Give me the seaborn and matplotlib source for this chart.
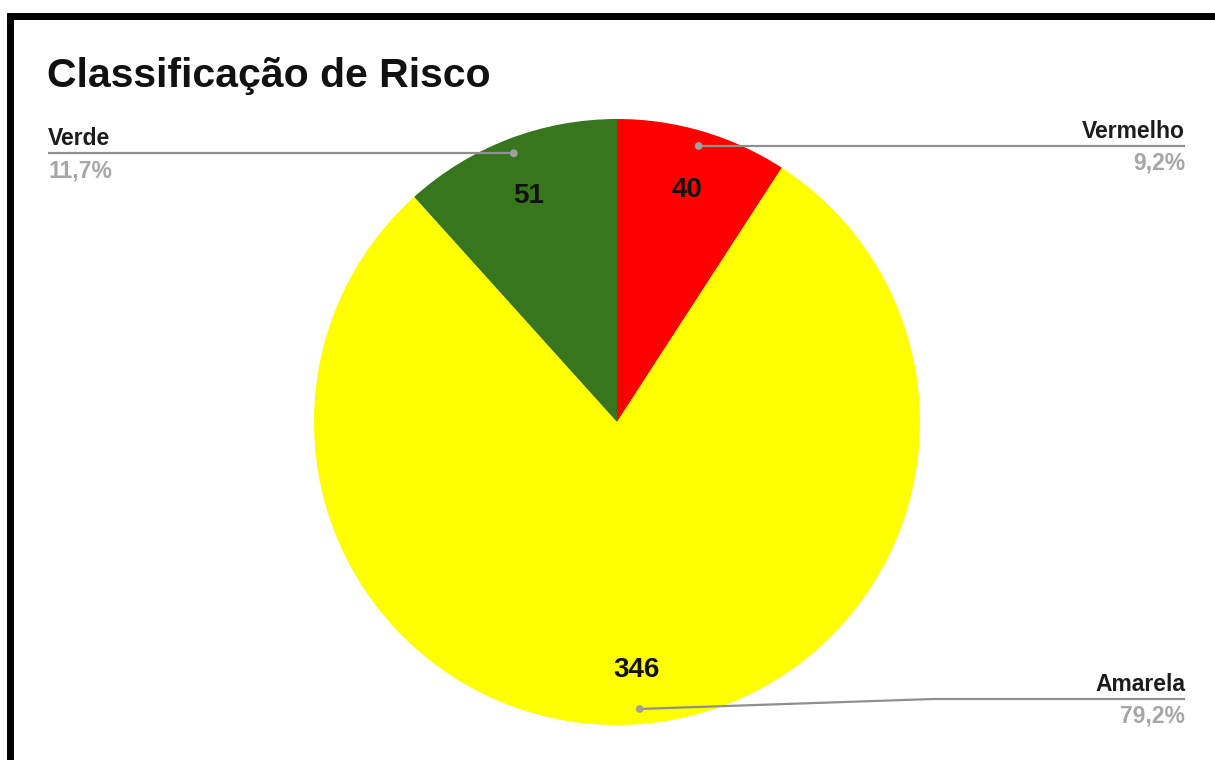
import numpy as np
import matplotlib
matplotlib.use("Agg")
import matplotlib.pyplot as plt
from matplotlib.patches import Rectangle, Circle
import seaborn as sns

# Dados
categorias = ["Vermelho", "Amarela", "Verde"]
valores = [40, 346, 51]
cores = ["#FF0000", "#FFFF00", "#38761D"]
titulo = "Classificação de Risco"

sns.set_theme(style="white")
plt.rcParams["font.family"] = ["Liberation Sans", "DejaVu Sans"]

W, H = 1215, 760
fig = plt.figure(figsize=(W / 100, H / 100), dpi=100)
ax = fig.add_axes([0, 0, 1, 1])
ax.set_xlim(0, W)
ax.set_ylim(0, H)
ax.set_aspect("equal")
ax.axis("off")


def py(y):
    """Converte y em pixels (de cima para baixo) para coordenadas do eixo."""
    return H - y


cx, cy, r = 617, py(422), 303
total = sum(valores)

wedges, _, autotexts = ax.pie(
    valores,
    colors=sns.color_palette(cores),
    startangle=90,
    counterclock=False,
    center=(cx, cy),
    radius=r,
    autopct=lambda p: f"{round(p * total / 100)}",
    pctdistance=0.81,
    wedgeprops=dict(linewidth=0),
    textprops=dict(fontsize=20, fontweight="bold", color="#111111"),
)
for t in autotexts:
    t.set_va("center_baseline")
ax.set_xlim(0, W)
ax.set_ylim(0, H)

# Moldura preta
fig.patches.append(Rectangle((9.5, -20), W + 40, H - 15.5 + 20, transform=None,
                             fill=False, edgecolor="black", linewidth=5.0,
                             figure=fig))

ax.text(47, py(76), titulo, fontsize=29.5, fontweight="bold", color="#111111",
        ha="left", va="center")

line_col = "#8f8f8f"
pct_col = "#a6a6a6"
lbl_col = "#1c1c1c"

# Rótulos com linhas de chamada: (lado, x final, y da linha, ponto de quebra)
layout = {
    "Vermelho": ("right", 1185, 146, None),
    "Verde": ("left", 48, 153, None),
    "Amarela": ("right", 1185, 699, 933),
}

for w, cat, val in zip(wedges, categorias, valores):
    ang = np.deg2rad((w.theta1 + w.theta2) / 2)
    dx, dy = cx + 0.95 * r * np.cos(ang), cy + 0.95 * r * np.sin(ang)
    side, xe, yl, xb = layout[cat]
    if xb is None:
        xs, ys = [dx, xe], [dy, dy]
        ylab = dy
    else:
        xs, ys = [dx, xb, xe], [dy, py(yl), py(yl)]
        ylab = py(yl)
    ax.plot(xs, ys, color=line_col, lw=1.6, solid_capstyle="butt", zorder=3)
    ax.add_patch(Circle((dx, dy), 3.2, color="#a0a0a0", zorder=4))
    ha = "right" if side == "right" else "left"
    ax.text(xe, ylab + 8, cat, fontsize=16.5, fontweight="bold", color=lbl_col,
            ha=ha, va="baseline")
    pct = f"{val / total * 100:.1f}".replace(".", ",") + "%"
    ax.text(xe, ylab - 24, pct, fontsize=16.5, fontweight="bold", color=pct_col,
            ha=ha, va="baseline")

fig.savefig("out.png", dpi=100, facecolor="white")
